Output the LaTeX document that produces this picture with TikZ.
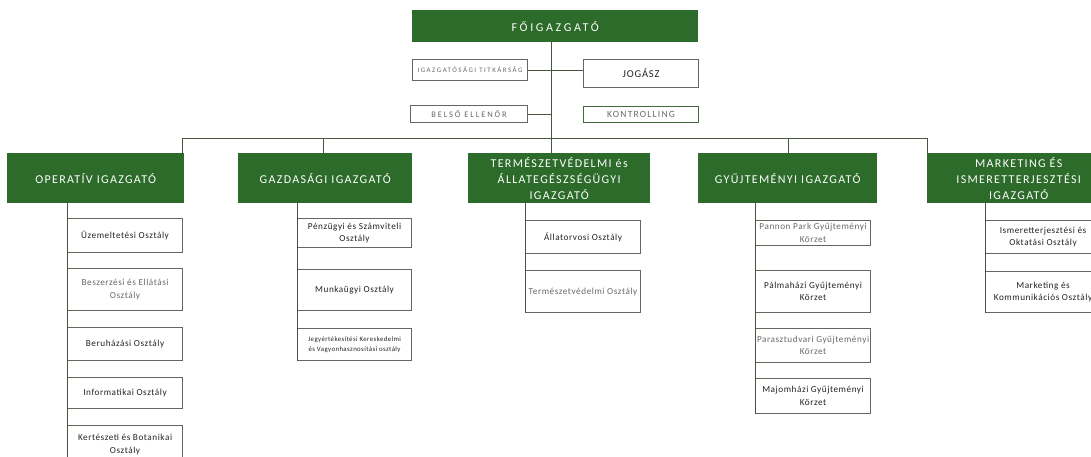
\documentclass[tikz,border=0pt]{standalone}
\usepackage{fontspec}
\setmainfont{Carlito}
\newfontfamily\dirfnt[LetterSpace=11]{Carlito}
\newfontfamily\topfnt[LetterSpace=22]{Carlito}
\newfontfamily\subfnt[LetterSpace=6]{Carlito}
\newfontfamily\capfnt[LetterSpace=22]{Carlito}
\newfontfamily\konfnt[LetterSpace=13]{Carlito}
\newfontfamily\jogfnt[LetterSpace=8]{Carlito}
\definecolor{dgreen}{RGB}{44,107,42}
\definecolor{linec}{RGB}{70,85,60}
\definecolor{boxgray}{RGB}{100,102,95}
\definecolor{txt}{RGB}{35,35,35}
\definecolor{ltxt}{RGB}{105,105,105}
\tikzset{
  dirbox/.style={fill=dgreen, text=white, inner sep=0pt, align=center, anchor=north west,
    font=\dirfnt\fontsize{12}{16}\selectfont},
  subbox/.style={draw=boxgray, line width=1.1pt, fill=white, align=center, inner sep=1pt,
    anchor=north west, text=txt, font=\subfnt\fontsize{9.2}{12.5}\selectfont},
  conn/.style={draw=linec, line width=1pt},
}
\begin{document}
\begin{tikzpicture}[x=1pt,y=-1pt]
\useasboundingbox (0,0) rectangle (1091,456);
\clip (0,0) rectangle (1091,456);
\fill[white] (0,0) rectangle (1091,456);
% top level
\node[dirbox, minimum width=286, minimum height=32, font=\topfnt\fontsize{12}{14}\selectfont] (top) at (412,10) {FŐIGAZGATÓ};
\node[subbox, minimum width=115, minimum height=21, text=ltxt, font=\capfnt\fontsize{6.9}{8}\selectfont] (tit) at (412,59) {IGAZGATÓSÁGI TITKÁRSÁG};
\node[subbox, minimum width=115, minimum height=28, font=\jogfnt\fontsize{10.5}{12}\selectfont] (jog) at (583,59) {JOGÁSZ};
\node[subbox, minimum width=117, minimum height=17, text=ltxt, font=\capfnt\fontsize{8.5}{9}\selectfont] (bel) at (410,105) {BELSŐ ELLENŐR};
\node[subbox, minimum width=115, minimum height=16, text=ltxt, draw=dgreen!60!boxgray, font=\konfnt\fontsize{9.5}{10}\selectfont] (kon) at (583,106) {KONTROLLING};
% directors
\node[dirbox, minimum width=177, minimum height=50] (op) at (7,153) {OPERATÍV IGAZGATÓ};
\node[dirbox, minimum width=174, minimum height=50] (gaz) at (238,153) {GAZDASÁGI IGAZGATÓ};
\node[dirbox, minimum width=182, minimum height=50] (ter) at (468,153) {TERMÉSZETVÉDELMI és\\ÁLLATEGÉSZSÉGÜGYI\\IGAZGATÓ};
\node[dirbox, minimum width=179, minimum height=50] (gyu) at (698,153) {GYŰJTEMÉNYI IGAZGATÓ};
\node[dirbox, minimum width=183, minimum height=50] (mar) at (927,153) {MARKETING ÉS\\ISMERETTERJESZTÉSI\\IGAZGATÓ};
% bus
\coordinate (busL) at (182,138);
\coordinate (busR) at (927,138);
\coordinate (busM) at (551,138);
\draw[conn] (top.south -| busM) -- (busM);
\draw[conn] (tit.east) -- (tit.east -| jog.west);
\draw[conn] (bel.east) -- (bel.east -| busM);
\draw[conn] (busL |- op.north) -- (busL) -- (busR) -- (busR |- mar.north);
\draw[conn] (323,138) -- (323,153);
\draw[conn] (busM) -- (busM |- ter.north);
\draw[conn] (788,138) -- (788,153);
% operativ children
\node[subbox, minimum width=115, minimum height=34] (o1) at (67,218) {Üzemeltetési Osztály};
\node[subbox, minimum width=115, minimum height=42, text=ltxt] (o2) at (67,268) {Beszerzési és Ellátási\\Osztály};
\node[subbox, minimum width=115, minimum height=33] (o3) at (67,327) {Beruházási Osztály};
\node[subbox, minimum width=115, minimum height=31] (o4) at (67,377) {Informatikai Osztály};
\node[subbox, minimum width=115, minimum height=38] (o5) at (67,425) {Kertészeti és Botanikai\\Osztály};
\draw[conn] (o1.west |- op.south) -- (o5.south west);
% gazdasagi children
\node[subbox, minimum width=114, minimum height=29] (g1) at (297,218) {Pénzügyi és Számviteli\\Osztály};
\node[subbox, minimum width=114, minimum height=41] (g2) at (297,269) {Munkaügyi Osztály};
\node[subbox, minimum width=114, minimum height=32, font=\subfnt\fontsize{6.8}{10}\selectfont] (g3) at (297,328) {Jegyértékesítési Kereskedelmi\\és Vagyonhasznosítási osztály};
\draw[conn] (g1.west |- gaz.south) -- (g3.south west);
% termeszetvedelmi children
\node[subbox, minimum width=115, minimum height=33] (t1) at (525,220) {Állatorvosi Osztály};
\node[subbox, minimum width=115, minimum height=42, text=ltxt] (t2) at (525,270) {Természetvédelmi Osztály};
\draw[conn] (t1.west |- ter.south) -- (t2.south west);
% gyujtemenyi children
\node[subbox, minimum width=115, minimum height=25, text=ltxt] (y1) at (755,220) {Pannon Park Gyűjteményi\\Körzet};
\node[subbox, minimum width=115, minimum height=42] (y2) at (755,270) {Pálmaházi Gyűjteményi\\Körzet};
\node[subbox, minimum width=115, minimum height=34, text=ltxt] (y3) at (755,328) {Parasztudvari Gyűjteményi\\Körzet};
\node[subbox, minimum width=115, minimum height=35] (y4) at (755,378) {Majomházi Gyűjteményi\\Körzet};
\draw[conn] (y1.west |- gyu.south) -- (y4.south west);
% marketing children
\node[subbox, minimum width=115, minimum height=33] (m1) at (985,220) {Ismeretterjesztési és\\Oktatási Osztály};
\node[subbox, minimum width=115, minimum height=41] (m2) at (985,271) {Marketing és\\Kommunikációs Osztály};
\draw[conn] (m1.west |- mar.south) -- (m2.south west);
\end{tikzpicture}
\end{document}
